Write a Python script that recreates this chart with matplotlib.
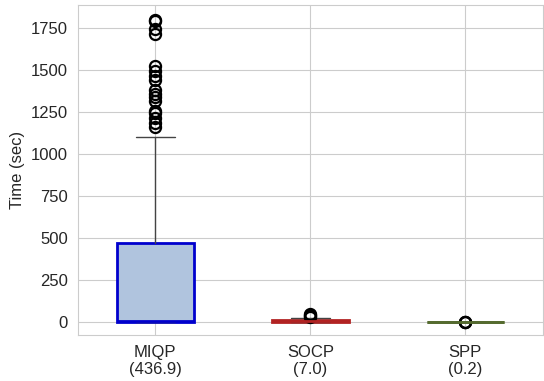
import matplotlib
matplotlib.use("Agg")
import matplotlib.pyplot as plt
import seaborn as sns

sns.set_style("whitegrid")
plt.rcParams['font.family'] = ['Liberation Sans', 'DejaVu Sans']

labels = ["MIQP\n(436.9)", "SOCP\n(7.0)", "SPP\n(0.2)"]
q1 = [0, 0, 0]
med = [3, 5, 0.1]
q3 = [468, 14, 0.5]
whislo = [0, 0, 0]
whishi = [1105, 22, 1]
fliers = [
    [1800, 1795, 1745, 1715, 1525, 1495, 1465, 1440, 1380, 1360, 1340, 1320, 1260, 1245, 1215, 1185, 1165],
    [30, 35, 40, 45],
    [0.2, 0.5, 1.5],
]
face_colors = ["#b0c4de", "#b22222", "#556b2f"]
edge_colors = ["#0000cd", "#b22222", "#556b2f"]

fig, ax = plt.subplots(figsize=(5.44, 3.81), dpi=100)
for i in range(3):
    st = [dict(q1=q1[i], med=med[i], q3=q3[i], whislo=whislo[i], whishi=whishi[i],
               fliers=fliers[i], label=labels[i])]
    ax.bxp(st, positions=[i + 1], widths=0.5, patch_artist=True, showfliers=True,
           boxprops=dict(facecolor=face_colors[i], edgecolor=edge_colors[i], linewidth=2),
           medianprops=dict(color=edge_colors[i], linewidth=2),
           whiskerprops=dict(color="#444444", linewidth=1),
           capprops=dict(color="#444444", linewidth=1),
           flierprops=dict(marker="o", markerfacecolor="none", markeredgecolor="black",
                           markersize=8, markeredgewidth=1.6))

ax.set_xlim(0.5, 3.5)
ax.set_ylim(-80, 1890)
ax.set_xticks([1, 2, 3])
ax.set_xticklabels(labels, fontsize=12)
ax.set_yticks([0, 250, 500, 750, 1000, 1250, 1500, 1750])
ax.tick_params(axis='y', labelsize=12)
ax.set_ylabel("Time (sec)", fontsize=12)
fig.subplots_adjust(left=0.143, right=0.998, top=0.987, bottom=0.12)
fig.savefig("out.png", dpi=100)
